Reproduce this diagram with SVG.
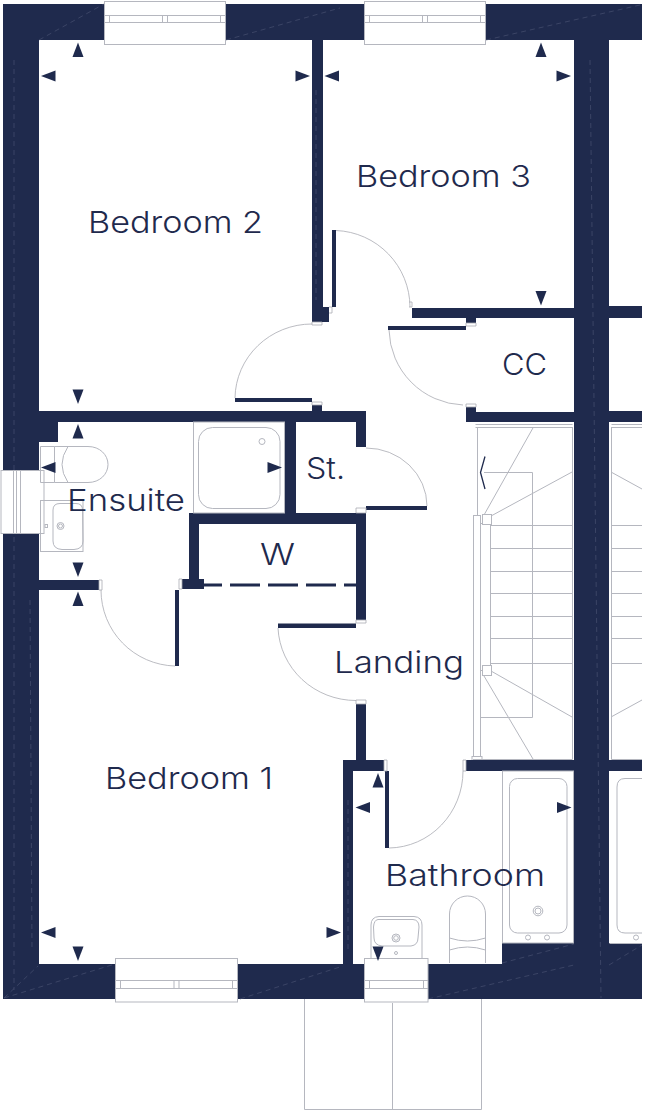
<svg xmlns="http://www.w3.org/2000/svg" width="648" height="1112" viewBox="0 0 648 1112">
<style>
.w{fill:#1f2a4d}
.l{fill:none;stroke:#b5b7bf;stroke-width:1}
.f{fill:#fff;stroke:#b5b7bf;stroke-width:1}
.d{fill:none;stroke:#a9abb3;stroke-width:.8}
.h{fill:none;stroke:#4d5675;stroke-width:.6;stroke-dasharray:5 4}
.t{font-family:"Inter","Liberation Sans",sans-serif;font-weight:300;font-size:30px;fill:#1f2a4d}
</style>
<defs>
<polygon id="up" class="w" points="0,-7.500 5.500,7 -5.500,7"/>
<polygon id="dn" class="w" points="0,7.500 5.500,-7 -5.500,-7"/>
<polygon id="lf" class="w" points="-7.500,0 7,-5.500 7,5.500"/>
<polygon id="rt" class="w" points="7.500,0 -7,-5.500 -7,5.500"/>
</defs>
<rect width="648" height="1112" fill="#fff"/>
<g id="porch"><path class="l" d="M304.500 999V1109.500H481.500V999M392.500 1003V1109.500"/></g>
<g id="stairs">
<path class="l" d="M475.500 424.500H572.500M475.500 427.500H572.500V759.500H473M477.500 427V515M572.500 427V759M480.500 717.500H532.500V472.500H484M490 525.500H572M490 548.500H572M490 571.500H572M490 593.500H572M490 616.500H572M490 638.500H572M490 663.500H572M484 515L533.500 427M491 516L572 472M491 671L572 717M484 676L533 759"/>
<rect class="l" x="473.500" y="515.500" width="7" height="241"/>
<rect class="l" x="480.500" y="523.500" width="10" height="147"/>
<rect class="f" x="482.500" y="514.500" width="9" height="10"/>
<rect class="f" x="482.500" y="665.500" width="9" height="10"/>
<rect class="l" x="472" y="756.500" width="10" height="4"/>
<polyline points="485,456.500 480.500,472.500 485,489" fill="none" stroke="#1f2a4d" stroke-width="1.300"/>
<path class="l" d="M611.500 424.500H642M611.500 427.500H642M611.500 427V759.500H642M611 525.500H642M611 548.500H642M611 571.500H642M611 593.500H642M611 616.500H642M611 638.500H642M611 663.500H642M611 472L642 489M611 717L642 700"/>
</g>
<g id="walls" class="w">
<rect x="3" y="4" width="639" height="36"/>
<rect x="3" y="4" width="36" height="995"/>
<rect x="3" y="964" width="639" height="35"/>
<rect x="574" y="4" width="35" height="995"/>
<rect x="609" y="306" width="33" height="12"/>
<rect x="609" y="411" width="33" height="11"/>
<rect x="609" y="760" width="33" height="11"/>
<rect x="609" y="943" width="33" height="56"/>
<rect x="502" y="943" width="72" height="21"/>
<rect x="312" y="40" width="11" height="282"/>
<rect x="312" y="307" width="17" height="15" />
<rect x="412" y="308" width="162" height="10"/>
<rect x="466" y="308" width="10" height="15"/>
<rect x="466" y="412" width="108" height="10"/>
<rect x="466" y="407" width="10" height="15"/>
<rect x="39" y="411" width="327" height="11"/>
<rect x="312" y="405" width="10" height="8"/>
<rect x="39" y="422" width="19" height="20"/>
<rect x="285" y="422" width="11" height="91"/>
<rect x="356" y="411" width="10" height="36"/>
<rect x="189" y="513" width="177" height="11"/>
<rect x="356" y="513" width="10" height="107"/>
<rect x="189" y="513" width="10" height="70"/>
<rect x="182" y="579" width="22" height="10"/>
<rect x="39" y="580" width="60" height="10"/>
<rect x="356" y="704" width="10" height="57"/>
<rect x="343" y="760" width="41" height="11"/>
<rect x="343" y="760" width="10" height="204"/>
<rect x="466" y="760" width="108" height="11"/>
<rect x="332" y="230" width="4" height="77"/>
<rect x="388" y="326" width="78" height="4"/>
<rect x="235" y="398" width="77" height="4"/>
<rect x="175" y="590" width="4" height="76"/>
<rect x="278" y="623.500" width="78" height="4.500"/>
<rect x="385" y="771" width="4" height="77"/>
<rect x="366" y="506" width="61" height="4"/>
<path d="M204 585H356" stroke="#1f2a4d" stroke-width="3" stroke-dasharray="18 8 30 8 30 8 30 8" fill="none"/>
</g>
<g id="wall-hairlines">
<path class="h" d="M39 40L104 4M226 40L340 8M486 40L640 5M502 963L574 944M240 999L343 966M428 999L574 965M609 965L642 945M4 998L38 966M4 998L115 964M14 60L14 990M30 600L32 950M590 60L601 998M316 90V300M348 800V950"/>
</g>
<g id="windows">
<g id="window-top-1"><rect class="f" x="104.500" y="1.500" width="121" height="43"/><path class="l" d="M104 15.500H226M104 22.500H226M109.500 15.500V22.500M220.500 15.500V22.500M162.500 15.500V22.500M167.500 15.500V22.500"/></g>
<g id="window-top-2"><rect class="f" x="364.500" y="1.500" width="121" height="43"/><path class="l" d="M364 15.500H486M364 22.500H486M369.500 15.500V22.500M480.500 15.500V22.500M422.500 15.500V22.500M427.500 15.500V22.500"/></g>
<g id="window-bottom-1"><rect class="f" x="115.500" y="958.500" width="122" height="43.500"/><path class="l" d="M115 980.500H238M115 988.500H238M120.500 980.500V988.500M232.500 980.500V988.500M174 980.500V988.500M179 980.500V988.500"/></g>
<g id="window-bottom-2"><rect class="f" x="364.500" y="958.500" width="63.500" height="43.500"/><path class="l" d="M364 980.500H428M364 988.500H428M369.500 980.500V988.500M423.500 980.500V988.500"/></g>
<g id="window-left"><rect class="f" x="1" y="470.500" width="43" height="63"/><path class="l" d="M13.500 470V533M16.500 470V533M20.500 470V533"/></g>
</g>
<g id="doors">
<path class="d" d="M336 230.500A77 77 0 0 1 410 307M389 330A77 77 0 0 0 463 405M312 324A77 75 0 0 0 235 398M101 590A76 76 0 0 0 175 666M278 628A78 76 0 0 0 356 700.500M389 848A75 77 0 0 0 463 771M366 448A61 58 0 0 1 427 506"/>
<path class="d" d="M409 302h3v5h-3M329 307h3v6h-3M312 322h10v3h-10zM466 323h10v3h-10zM466 404h10v3h-10zM312 402h10v3h-10zM99 580h3v10h-3zM179 579h3v10h-3zM356 620h10v3h-10zM356 700h10v4h-10zM384 760h3v11h-3zM463 760h3v11h-3zM356 508h10v5h-10z"/>
</g>
<g id="fixtures">
<g id="shower"><rect class="l" x="193.500" y="422" width="91" height="91"/><rect class="l" x="198.500" y="427.500" width="81.500" height="81" rx="14"/><circle class="l" cx="262" cy="441.500" r="3"/></g>
<g id="ensuite-wc"><path class="l" d="M40.500 446.500H54.500V482.500H40.500ZM54.500 446.500H88C100 446.500 108 455 108 464.500C108 474 100 482.500 88 482.500H54.500M68 446.500Q56 464.500 68 482.500"/></g>
<g id="ensuite-basin"><rect class="l" x="40.500" y="500.500" width="42.500" height="51"/><path class="l" d="M60 503.500H76Q82.500 503.500 82.500 510L83 541Q83 549 74 549.500H62Q53 549 53 541V510Q53 503.500 60 503.500Z"/><circle class="l" cx="60.500" cy="526" r="3.500"/><circle class="l" cx="60.500" cy="526" r="2"/><rect class="l" x="45" y="524.500" width="2.500" height="3"/></g>
<g id="bath"><rect class="l" x="502.500" y="771" width="71" height="172"/><rect class="l" x="509.500" y="778.500" width="57.500" height="154.500" rx="8"/><circle class="l" cx="538" cy="911" r="4.800"/><circle class="l" cx="538" cy="911" r="3"/><circle class="l" cx="528" cy="937.500" r="2.500"/><circle class="l" cx="547" cy="937.500" r="2.500"/></g>
<g id="neighbour-bath"><path class="l" d="M642 778.500H625Q617 778.500 617 787V925Q617 933 625 933H642M609.500 943.500H642"/><circle class="l" cx="636" cy="937.500" r="2.500"/></g>
<g id="bath-wc"><path class="l" d="M449.500 963V914A18 18 0 0 1 485.500 914V963M449.500 938Q467.500 944 485.500 938M449.500 950Q467.500 944 485.500 950"/></g>
<g id="bath-basin"><path class="l" d="M371 958V925Q371 917 379 916.500H414Q422 917 422 925V958M378 919.500H413Q419 920 419 927L418 938Q418 945 411 946H382Q374 945 374 938L373.500 927Q374 920 378 919.500Z"/><circle class="l" cx="396" cy="938" r="4"/><circle class="l" cx="396" cy="938" r="2.300"/><circle class="l" cx="396" cy="953" r="1.500"/></g>
</g>
<g id="dimension-arrows">
<use href="#up" x="78" y="50"/><use href="#lf" x="48.500" y="76"/><use href="#rt" x="302.500" y="76"/><use href="#dn" x="78" y="396.500"/>
<use href="#lf" x="332" y="76"/><use href="#up" x="541" y="50"/><use href="#rt" x="563.500" y="76"/><use href="#dn" x="541" y="298"/>
<use href="#up" x="78" y="431.500"/><use href="#lf" x="48.500" y="467.500"/><use href="#rt" x="274.500" y="467.500"/><use href="#dn" x="78" y="569.500"/>
<use href="#up" x="78" y="599"/><use href="#lf" x="48.500" y="932.500"/><use href="#rt" x="333.500" y="932.500"/><use href="#dn" x="78" y="953.500"/>
<use href="#up" x="378" y="780.500"/><use href="#lf" x="363" y="807.500"/><use href="#rt" x="564" y="807.500"/><use href="#dn" x="378" y="953.500"/>
</g>
<g id="labels">
<text class="t" x="88" y="233" textLength="175" lengthAdjust="spacingAndGlyphs">Bedroom 2</text>
<text class="t" x="356" y="187" textLength="175" lengthAdjust="spacingAndGlyphs">Bedroom 3</text>
<text class="t" x="105" y="789" textLength="168" lengthAdjust="spacingAndGlyphs">Bedroom 1</text>
<text class="t" x="67" y="511" textLength="118" lengthAdjust="spacingAndGlyphs">Ensuite</text>
<text class="t" x="306" y="479" textLength="39" lengthAdjust="spacingAndGlyphs">St.</text>
<text class="t" x="260" y="565" textLength="35" lengthAdjust="spacingAndGlyphs">W</text>
<text class="t" x="502" y="375" textLength="45" lengthAdjust="spacingAndGlyphs">CC</text>
<text class="t" x="334" y="673" textLength="130" lengthAdjust="spacingAndGlyphs">Landing</text>
<text class="t" x="385" y="886" textLength="160" lengthAdjust="spacingAndGlyphs">Bathroom</text>
</g>
</svg>
